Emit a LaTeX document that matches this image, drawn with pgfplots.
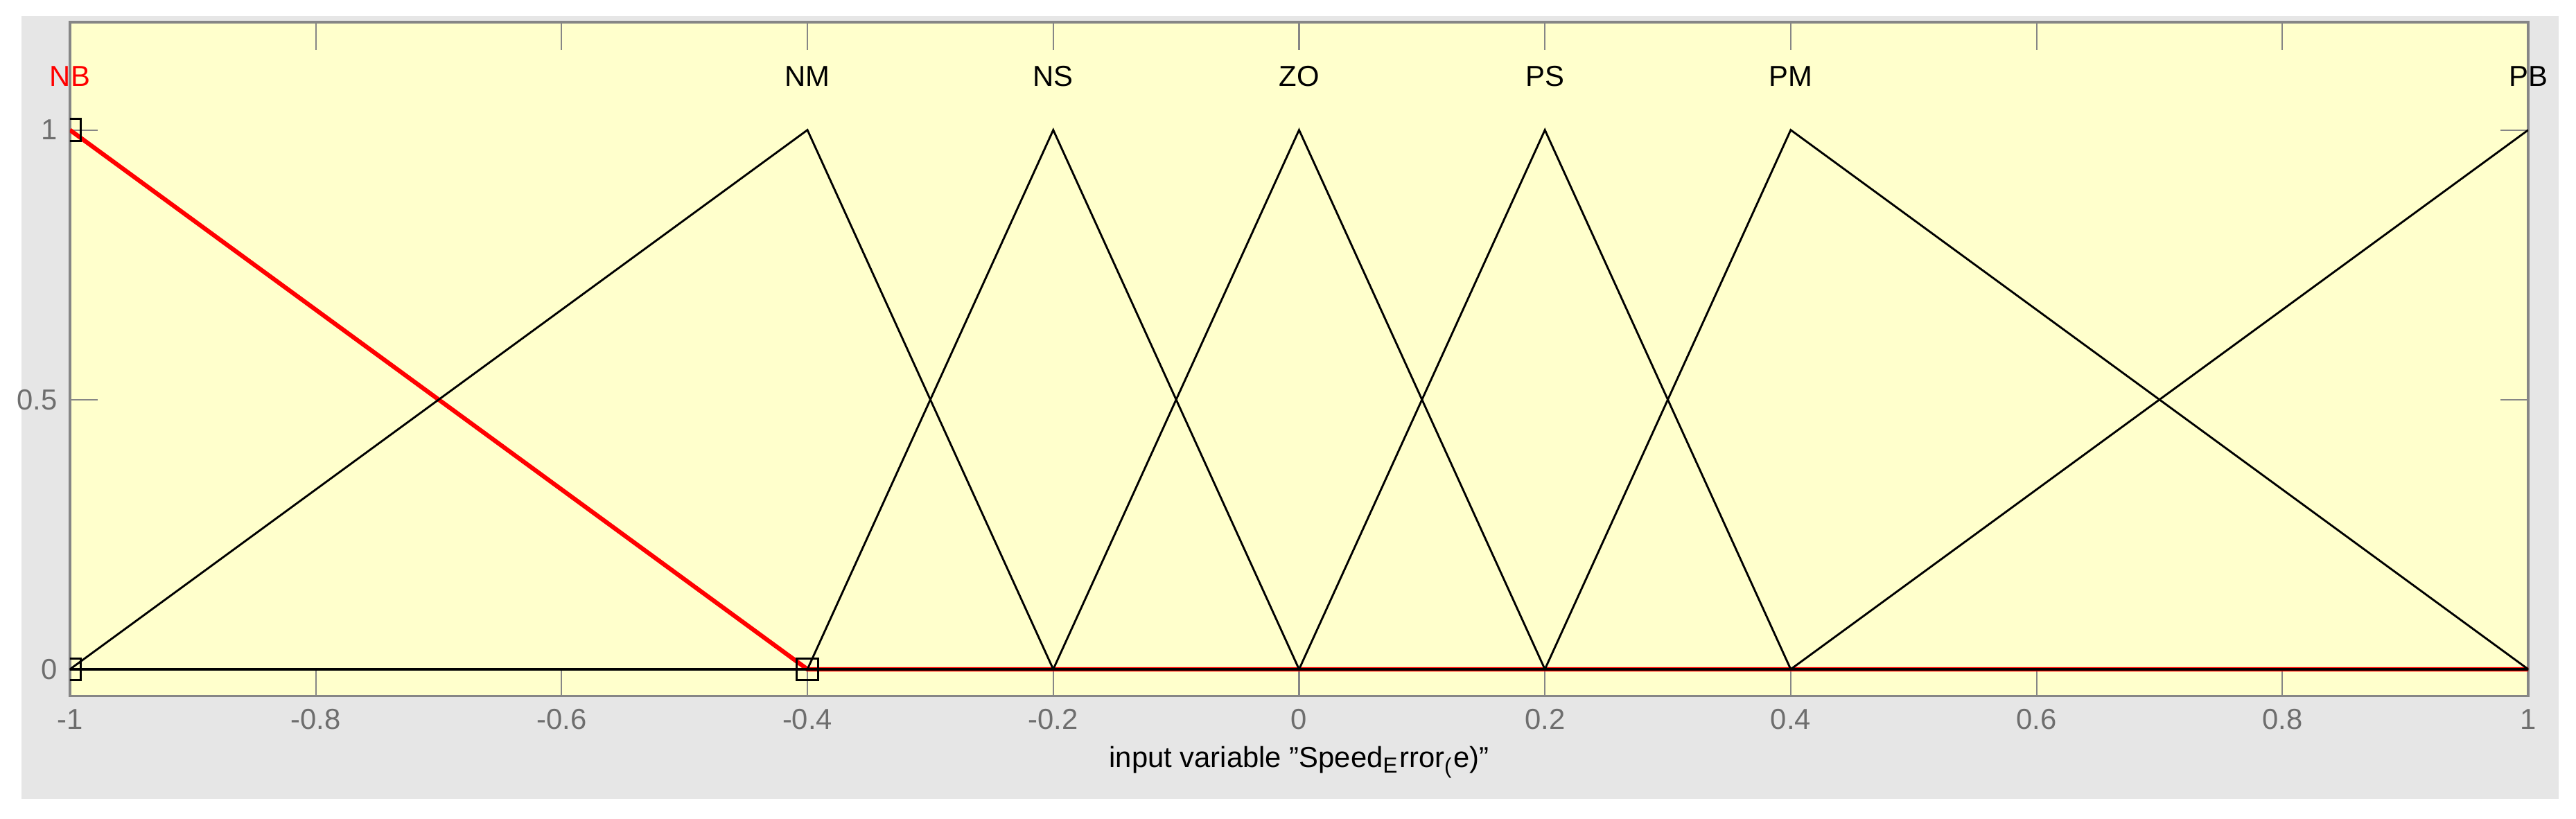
\documentclass[border=0pt]{standalone}
\usepackage{fontspec}
\setmainfont{Liberation Sans}
\usepackage{pgfplots}
\pgfplotsset{compat=1.18}
\definecolor{panel}{RGB}{230,230,230}
\definecolor{plotbg}{RGB}{255,255,204}
\definecolor{frame}{RGB}{134,134,134}
\definecolor{ticktext}{RGB}{110,110,110}
\newcommand{\lblfont}{\fontsize{8}{9.6}\selectfont}

\begin{document}
\begin{tikzpicture}
\useasboundingbox[fill=white] (-0.679,-1.1905) rectangle (24.324,6.759);
\fill[panel] (-0.471,-0.995) rectangle (24.156,6.605);
\begin{axis}[
  at={(0,0)}, anchor=south west,
  scale only axis, width=23.86cm, height=6.544cm,
  xmin=-1, xmax=1, ymin=-0.05, ymax=1.2,
  axis background/.style={fill=plotbg},
  axis line style={draw=frame, line width=0.6pt},
  tick align=inside, tick pos=both,
  xticklabel pos=lower, yticklabel pos=left,
  major tick length=0.269cm,
  tick style={draw=frame, line width=0.4pt},
  xtick={-1,-0.8,-0.6,-0.4,-0.2,0,0.2,0.4,0.6,0.8,1},
  xticklabels={-1,-0.8,-0.6,-0.4,-0.2,0,0.2,0.4,0.6,0.8,1},
  ytick={0,0.5,1}, yticklabels={0,0.5,1},
  tick label style={font=\lblfont, text=ticktext},
  xlabel={input variable \symbol{34}Speed\textsubscript{E}rror\textsubscript{(}e)\symbol{34}},
  xlabel style={font=\lblfont, at={(axis description cs:0.5,-0.098)}, anchor=center},
  clip mode=individual, clip marker paths=true,
]
% NB (selected)
\addplot[red, line width=1.2pt] coordinates {(-1,1) (-0.4,0) (1,0)};
% NM
\addplot[black, line width=0.55pt] coordinates {(-1,0) (-0.4,1) (-0.2,0) (1,0)};
% NS
\addplot[black, line width=0.55pt] coordinates {(-1,0) (-0.4,0) (-0.2,1) (0,0) (1,0)};
% ZO
\addplot[black, line width=0.55pt] coordinates {(-1,0) (-0.2,0) (0,1) (0.2,0) (1,0)};
% PS
\addplot[black, line width=0.55pt] coordinates {(-1,0) (0,0) (0.2,1) (0.4,0) (1,0)};
% PM
\addplot[black, line width=0.55pt] coordinates {(-1,0) (0.2,0) (0.4,1) (1,0)};
% PB
\addplot[black, line width=0.55pt] coordinates {(-1,0) (0.4,0) (1,1)};
% handles on the selected MF
\addplot[only marks, mark=square, mark size=3pt, mark options={draw=black, line width=0.6pt}]
  coordinates {(-1,1) (-1,0) (-0.4,0)};

\node[font=\lblfont, red] at (axis cs:-1,1.1) {NB};
\node[font=\lblfont] at (axis cs:-0.4,1.1) {NM};
\node[font=\lblfont] at (axis cs:-0.2,1.1) {NS};
\node[font=\lblfont] at (axis cs:0,1.1) {ZO};
\node[font=\lblfont] at (axis cs:0.2,1.1) {PS};
\node[font=\lblfont] at (axis cs:0.4,1.1) {PM};
\node[font=\lblfont] at (axis cs:1,1.1) {PB};
\end{axis}
\end{tikzpicture}
\end{document}
